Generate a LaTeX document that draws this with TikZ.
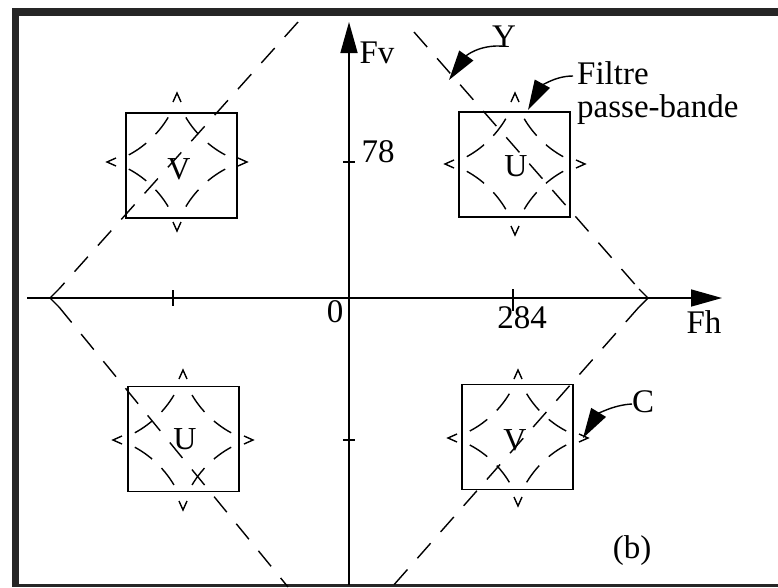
\documentclass[tikz,border=0pt]{standalone}
\usepackage{fontspec}
\setmainfont{Liberation Serif}
\usetikzlibrary{arrows.meta}
\newcommand\myastroid[4]{%
  \foreach \sx/\sy in {-1/-1,1/-1,-1/1,1/1}{%
    \draw[arcdash] plot[variable=\t, domain=28:62, samples=16, smooth]
      ({#1+(\sx)*#3*pow(cos(\t),3)},{#2+(\sy)*#4*pow(sin(\t),3)});
  }%
  \draw[chev] (#1-4,#2-#4+9) -- (#1,#2-#4) -- (#1+4,#2-#4+9);
  \draw[chev] (#1-4,#2+#4-9) -- (#1,#2+#4) -- (#1+4,#2+#4-9);
  \draw[chev] (#1-#3+9,#2-4) -- (#1-#3,#2) -- (#1-#3+9,#2+4);
  \draw[chev] (#1+#3-9,#2-4) -- (#1+#3,#2) -- (#1+#3-9,#2+4);
}
\begin{document}
\begin{tikzpicture}[x=1pt,y=-1pt,
  lbl/.style={font=\fontsize{33}{35}\selectfont, inner sep=0pt, anchor=base},
  let/.style={font=\fontsize{32}{34}\selectfont, inner sep=0pt},
  box/.style={draw, line width=1.6pt, minimum width=111pt, minimum height=105pt, inner sep=0pt},
  axis/.style={line width=1.6pt, -{Triangle[length=31pt,width=17pt]}},
  bigdash/.style={line width=1.4pt, dash pattern=on 20pt off 15pt},
  arcdash/.style={line width=1.4pt, dash pattern=on 21pt off 13pt},
  chev/.style={line width=1.4pt},
  callout/.style={line width=1.4pt, -{Triangle[length=30pt,width=17pt]}},
  tickmark/.style={line width=1.4pt}]
\fill[white] (0,0) rectangle (778,587);
\useasboundingbox (0,0) rectangle (778,587);
% frame
\fill[black!85] (12,8) rectangle (778,16);
\fill[black!85] (12,8) rectangle (19,587);
\fill[black!85] (12,584) rectangle (778,587);
% boxes
\node[box] (btl) at (181.5,165.5) {};
\node[box] (btr) at (514.5,164.5) {};
\node[box] (bbl) at (183.5,439) {};
\node[box] (bbr) at (517.5,437) {};
\node[let] (ltl) at (179,169) {V};
\node[let] (ltr) at (516,166) {U};
\node[let] (lbl) at (185,439) {U};
\node[let] (lbr) at (515,440) {V};
% astroids
\myastroid{177}{162}{70}{69}
\myastroid{515}{164}{70}{71}
\myastroid{183}{440}{70}{70}
\myastroid{518}{438}{70}{68}
% big dashed diamond
\coordinate (dl) at (50,298);
\coordinate (dr) at (648,298);
\coordinate (ttl) at (298,22);
\coordinate (ttr) at (414,32);
\coordinate (bbl0) at (288,587);
\coordinate (bbr0) at (392,587);
\draw[bigdash] (ttl) -- ([xshift=9pt,yshift=9pt]dl);
\draw[bigdash] (ttr) -- ([xshift=-9pt,yshift=9pt]dr);
\draw[bigdash] ([xshift=9pt,yshift=-9pt]dl) -- (bbl0);
\draw[bigdash] ([xshift=-9pt,yshift=-9pt]dr) -- (bbr0);
\draw[chev] ([xshift=9pt,yshift=9pt]dl) -- (dl) -- ([xshift=9pt,yshift=-9pt]dl);
\draw[chev] ([xshift=-9pt,yshift=9pt]dr) -- (dr) -- ([xshift=-9pt,yshift=-9pt]dr);
% axes
\coordinate (vbot) at (349,585);
\coordinate (vtop) at (349,22);
\coordinate (hl) at (27,298);
\coordinate (hr) at (722,298);
\draw[axis] (vbot) -- (vtop);
\draw[axis] (hl) -- (hr);
\draw[tickmark] (173,290) -- (173,306);
\draw[tickmark] (513,289) -- (513,311);
\draw[tickmark] (343,162) -- (355,162);
\draw[tickmark] (343,440) -- (355,440);
% labels
\node[lbl] (Fv) at (377,63) {Fv};
\node[lbl] (l78) at (378,162) {78};
\node[lbl] (l0) at (335,322) {0};
\node[lbl] (l284) at (522,328) {284};
\node[lbl] (Fh) at (704,333) {Fh};
\node[lbl] (Y) at (504,47) {Y};
\node[lbl, anchor=base west] (Filtre) at (577,84) {Filtre};
\node[lbl, anchor=base west] (passe) at (577,117) {passe-bande};
\node[lbl] (C) at (643,412) {C};
\node[lbl] (b) at (632,558) {(b)};
% callouts
\coordinate (tipY) at (449,80);
\coordinate (tipF) at (528,110);
\coordinate (tipC) at (583,438);
\draw[callout] ([xshift=-2pt,yshift=1pt]Y.base) .. controls (478,45) and (466,56) .. (tipY);
\draw[callout] ([xshift=-4pt,yshift=8pt]Filtre.base west) .. controls (553,76) and (540,88) .. (tipF);
\draw[callout] ([xshift=-11pt,yshift=8pt]C.base) .. controls (612,405) and (597,415) .. (tipC);
\end{tikzpicture}
\end{document}
